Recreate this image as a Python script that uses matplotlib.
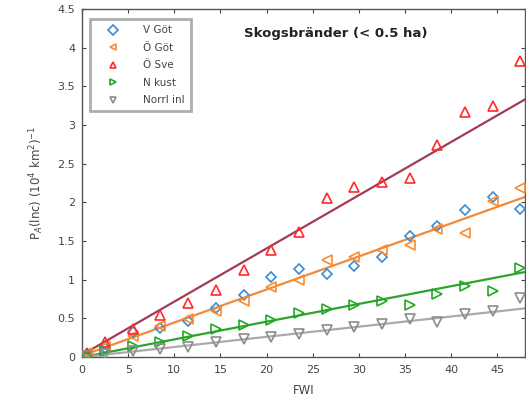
import matplotlib.pyplot as plt
import numpy as np

plt.rcParams['font.family'] = ['DejaVu Sans']

fwi = [0.5, 2.5, 5.5, 8.5, 11.5, 14.5, 17.5, 20.5, 23.5, 26.5, 29.5, 32.5,
       35.5, 38.5, 41.5, 44.5, 47.5]

v_got = [0.04, 0.12, 0.32, 0.38, 0.47, 0.63, 0.80, 1.03, 1.14, 1.08, 1.18,
         1.30, 1.57, 1.70, 1.90, 2.07, 1.92]
o_got = [0.05, 0.14, 0.27, 0.40, 0.49, 0.60, 0.72, 0.90, 1.00, 1.25, 1.29,
         1.38, 1.45, 1.65, 1.60, 2.02, 2.18]
o_sve = [0.05, 0.19, 0.37, 0.54, 0.70, 0.87, 1.12, 1.38, 1.62, 2.05, 2.20,
         2.26, 2.32, 2.74, 3.17, 3.25, 3.83]
n_kust = [0.02, 0.08, 0.14, 0.20, 0.27, 0.37, 0.41, 0.48, 0.57, 0.62, 0.67,
          0.73, 0.67, 0.82, 0.92, 0.85, 1.15]
norrl_in = [0.01, 0.04, 0.08, 0.10, 0.13, 0.20, 0.23, 0.26, 0.30, 0.35, 0.39,
            0.43, 0.49, 0.45, 0.56, 0.60, 0.76]

# fitted lines: value at FWI 0 and FWI 48
fit_x = [0, 48]
fit_got = [0.02, 2.07]
fit_sve = [0.03, 3.33]
fit_kust = [0.0, 1.10]
fit_norrl = [0.0, 0.63]

fig = plt.figure(figsize=(5.26, 4.04), dpi=100)
ax = fig.add_axes([0.156, 0.116, 0.842, 0.862])

ax.plot(fit_x, fit_sve, color='#a23b56', lw=1.6, zorder=2)
ax.plot(fit_x, fit_got, color='#f08a3c', lw=1.6, zorder=2)
ax.plot(fit_x, fit_kust, color='#2ca42c', lw=1.6, zorder=2)
ax.plot(fit_x, fit_norrl, color='#aaaaaa', lw=1.6, zorder=2)

mk = dict(ls='none', ms=6.5, mfc='none', mew=1.2, zorder=3)
ax.plot(fwi, v_got, marker='D', color='#3a8cd6', ms=5, label='V Göt',
        ls='none', mfc='none', mew=1.2, zorder=3)
ax.plot(fwi, o_got, marker='<', color='#ff8a2a', label='Ö Göt', **mk)
ax.plot(fwi, o_sve, marker='^', color='#ff2a2a', label='Ö Sve', **mk)
ax.plot(fwi, n_kust, marker='>', color='#22a822', label='N kust', **mk)
ax.plot(fwi, norrl_in, marker='v', color='#8c8c8c', label='Norrl inl', **mk)

ax.set_xlim(0, 48)
ax.set_ylim(0, 4.5)
ax.set_xticks(np.arange(0, 46, 5))
ax.set_yticks(np.arange(0, 4.6, 0.5))
ax.set_yticklabels(['0', '0.5', '1', '1.5', '2', '2.5', '3', '3.5', '4', '4.5'])
ax.tick_params(direction='in', top=True, right=True, labelsize=8,
               colors='#444444', length=3)
ax.tick_params(axis='x', pad=6)
ax.tick_params(axis='y', pad=5)
for s in ax.spines.values():
    s.set_color('#555555')
    s.set_linewidth(1.0)

ax.set_xlabel('FWI', fontsize=8.5, color='#444444', labelpad=6)
ax.set_ylabel(r'P$_A$(lnc) (10$^4$ km$^2$)$^{-1}$', fontsize=8.5,
              color='#444444', labelpad=8)

ax.text(0.573, 0.93, 'Skogsbränder (< 0.5 ha)', transform=ax.transAxes,
        ha='center', va='center', fontsize=9.5, fontweight='bold',
        color='#222222')

leg = ax.legend(loc='upper left', fontsize=7.5, frameon=True, fancybox=False,
                borderpad=0.6, labelspacing=0.72, handletextpad=1.2,
                handlelength=3.3, borderaxespad=0,
                bbox_to_anchor=(0.018, 0.971))
leg.get_frame().set_edgecolor('#999999')
leg.get_frame().set_linewidth(2)
for t in leg.get_texts():
    t.set_color('#444444')
for h in leg.legend_handles:
    h.set_markersize(5)

plt.savefig('out.png')
